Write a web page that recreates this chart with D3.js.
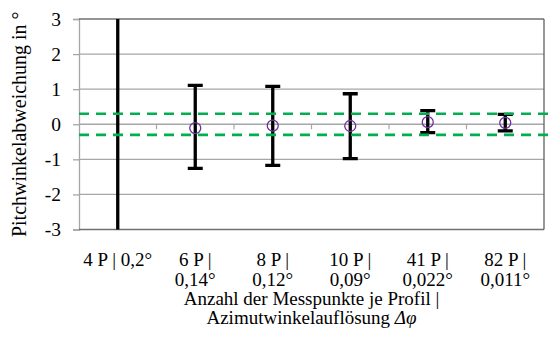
<!DOCTYPE html>
<html>
<head>
<meta charset="utf-8">
<script src="https://cdn.jsdelivr.net/npm/d3@7"></script>
<style>
  html, body { margin: 0; padding: 0; background: #fff; }
  svg { display: block; }
  svg text { font-family: "Liberation Serif", "Times New Roman", Tinos, "DejaVu Serif", serif; fill: #000; }
</style>
</head>
<body>
<svg id="chart" width="549" height="338"></svg>
<script>
// Categories: number of measurement points per profile | azimuth resolution
const categories = ["4P", "6P", "8P", "10P", "41P", "82P"];
const labelLine1 = ["4 P | 0,2°", "6 P |", "8 P |", "10 P |", "41 P |", "82 P |"];
const labelLine2 = ["", "0,14°", "0,12°", "0,09°", "0,022°", "0,011°"];

// Mean pitch deviation and min/max range per configuration (°).
// The 4-point case spreads far beyond the axis range; its mean lies off the chart.
const means  = [null, -0.11, -0.04, -0.05, 0.06, 0.04];
const lowers = [-6.0, -1.26, -1.17, -0.98, -0.24, -0.19];
const uppers = [ 6.0,  1.11,  1.08,  0.87,  0.39,  0.28];

// Tolerance band (°)
const tolerance = [0.3, -0.3];

const yTicks = [-3, -2, -1, 0, 1, 2, 3];

const serif = "'Liberation Serif', 'Times New Roman', Tinos, 'DejaVu Serif', serif";
const fontSize = "19px";

const svg = d3.select("#chart");
const plotLeft = 79, plotRight = 544, plotTop = 19, plotBottom = 229.5;

const x = d3.scaleBand().domain(categories).range([plotLeft, plotRight]).paddingInner(0).paddingOuter(0);
const y = d3.scaleLinear().domain([-3, 3]).range([plotBottom, plotTop]);

svg.append("defs").append("clipPath").attr("id", "plotClip")
  .append("rect").attr("x", plotLeft).attr("y", plotTop)
  .attr("width", plotRight - plotLeft).attr("height", plotBottom - plotTop);

// Value axis with short outward ticks
const yAxis = d3.axisLeft(y).tickValues(yTicks).tickSize(6).tickFormat(d => d);
const yg = svg.append("g").attr("transform", `translate(${plotLeft},0)`).call(yAxis);
yg.attr("font-family", null).attr("font-size", null);
yg.select(".domain").attr("stroke", "#a6a6a6").attr("stroke-width", 1.3);
yg.selectAll(".tick line").attr("stroke", "#a6a6a6").attr("stroke-width", 1.3);
yg.selectAll(".tick text")
  .attr("x", -18)
  .attr("fill", "#000")
  .style("font-size", "19.5px")
  .style("font-family", serif);

// Horizontal gridlines
svg.append("g").selectAll("line").data(yTicks).join("line")
  .attr("x1", plotLeft).attr("x2", plotRight)
  .attr("y1", d => y(d)).attr("y2", d => y(d))
  .attr("stroke", d => (d === 3 || d === -3) ? "#707070" : "#a6a6a6")
  .attr("stroke-width", 1.3);

// Tick marks between categories on the zero line
svg.append("g").selectAll("line").data(categories.slice(1)).join("line")
  .attr("x1", d => x(d)).attr("x2", d => x(d))
  .attr("y1", y(0)).attr("y2", y(0) + 5)
  .attr("stroke", "#a6a6a6").attr("stroke-width", 1.2);

// Right frame
svg.append("line")
  .attr("x1", plotRight).attr("x2", plotRight).attr("y1", plotTop).attr("y2", plotBottom)
  .attr("stroke", "#606060").attr("stroke-width", 1.3);

const plot = svg.append("g").attr("clip-path", "url(#plotClip)");

// Error bars
const cx = i => x(categories[i]) + x.bandwidth() / 2;
const capHalf = 7.5;
const bars = plot.append("g");
categories.forEach((c, i) => {
  bars.append("line")
    .attr("x1", cx(i)).attr("x2", cx(i))
    .attr("y1", y(lowers[i])).attr("y2", y(uppers[i]))
    .attr("stroke", "#000").attr("stroke-width", 3.3);
  [lowers[i], uppers[i]].forEach(v => {
    bars.append("line")
      .attr("x1", cx(i) - capHalf).attr("x2", cx(i) + capHalf)
      .attr("y1", y(v)).attr("y2", y(v))
      .attr("stroke", "#000").attr("stroke-width", 3.3);
  });
});

// Mean markers
plot.append("g").selectAll("circle")
  .data(means.map((m, i) => ({ m, i })).filter(d => d.m !== null))
  .join("circle")
  .attr("cx", d => cx(d.i)).attr("cy", d => y(d.m)).attr("r", 5.5)
  .attr("fill", "none").attr("stroke", "#7030a0").attr("stroke-width", 1.3);

// Tolerance band lines
svg.append("g").selectAll("line").data(tolerance).join("line")
  .attr("x1", plotLeft).attr("x2", 549)
  .attr("y1", d => y(d)).attr("y2", d => y(d))
  .attr("stroke", "#00b050").attr("stroke-width", 2.7)
  .attr("stroke-dasharray", "10,7");

// Category labels
const lab = svg.append("g").attr("text-anchor", "middle");
categories.forEach((c, i) => {
  lab.append("text").attr("x", cx(i)).attr("y", 266)
    .style("font-family", serif).style("font-size", fontSize).text(labelLine1[i]);
  if (labelLine2[i]) lab.append("text").attr("x", cx(i)).attr("y", 285.5)
    .style("font-family", serif).style("font-size", fontSize).text(labelLine2[i]);
});

// Axis titles
const xMid = (plotLeft + plotRight) / 2;
svg.append("text").attr("x", xMid).attr("y", 304.5).attr("text-anchor", "middle")
  .style("font-family", serif).style("font-size", fontSize)
  .text("Anzahl der Messpunkte je Profil |");
const t2 = svg.append("text").attr("x", xMid).attr("y", 323.5).attr("text-anchor", "middle")
  .style("font-family", serif).style("font-size", fontSize);
t2.append("tspan").text("Azimutwinkelauflösung ");
t2.append("tspan").style("font-style", "italic").text("Δφ");

svg.append("text")
  .attr("transform", `translate(26,${(plotTop + plotBottom) / 2}) rotate(-90)`)
  .attr("text-anchor", "middle")
  .style("font-family", serif).style("font-size", "20px")
  .text("Pitchwinkelabweichung in °");
</script>
</body>
</html>
